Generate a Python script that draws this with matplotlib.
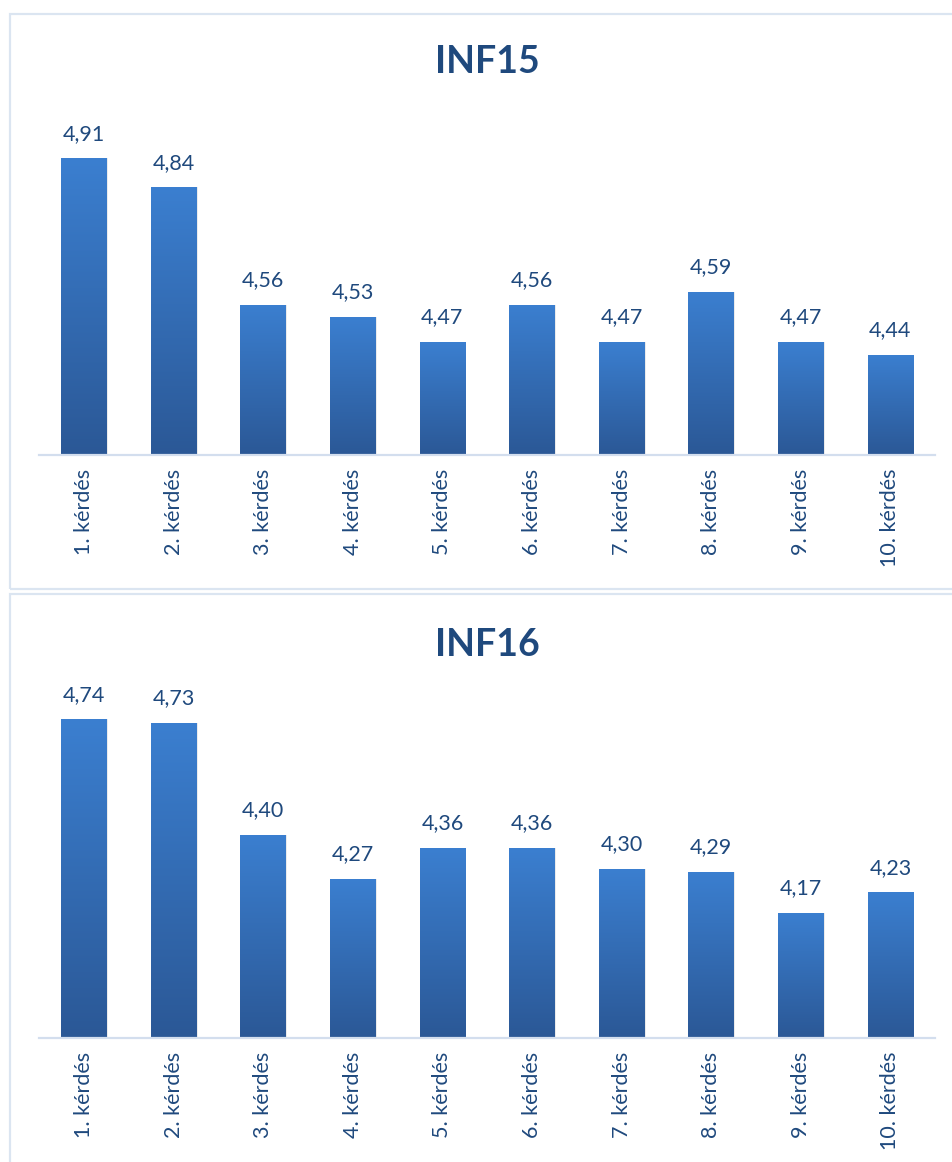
import numpy as np
import matplotlib
matplotlib.use("Agg")
import matplotlib.pyplot as plt
from matplotlib.colors import LinearSegmentedColormap
from matplotlib.patches import Rectangle

plt.rcParams["font.family"] = ["Lato", "DejaVu Sans"]

categories = ["1. kérdés", "2. kérdés", "3. kérdés", "4. kérdés", "5. kérdés",
              "6. kérdés", "7. kérdés", "8. kérdés", "9. kérdés", "10. kérdés"]
inf15 = [4.91, 4.84, 4.56, 4.53, 4.47, 4.56, 4.47, 4.59, 4.47, 4.44]
inf16 = [4.74, 4.73, 4.40, 4.27, 4.36, 4.36, 4.30, 4.29, 4.17, 4.23]

text_col = "#1f497d"
line_col = "#d3deee"
grad = LinearSegmentedColormap.from_list("bar", ["#2b5896", "#3b7fd0"])

W, H = 952, 1162
fig = plt.figure(figsize=(W / 100, H / 100), dpi=100)

# panel frames
fig.patches.append(Rectangle((10 / W, 1 - 589 / H), 960 / W, 575 / H, transform=fig.transFigure,
                             fill=False, edgecolor="#dbe5f1", linewidth=1.6))
fig.patches.append(Rectangle((10 / W, -0.05), 960 / W, 1 - 594 / H + 0.05, transform=fig.transFigure,
                             fill=False, edgecolor="#dbe5f1", linewidth=1.6))


def panel(rect, values, ylim, title, title_y):
    ax = fig.add_axes(rect)
    x = np.arange(len(values))
    w = 0.51
    bars = ax.bar(x, [v - ylim[0] for v in values], width=w, bottom=ylim[0],
                  color="#336bb3", zorder=2)
    img = np.linspace(0, 1, 256).reshape(-1, 1)
    for b, v in zip(bars, values):
        x0 = b.get_x()
        # soft shadow
        ax.add_patch(Rectangle((x0 + 0.012, ylim[0]), w, v - ylim[0],
                               facecolor="#000000", alpha=0.08, zorder=1, linewidth=0))
        im = ax.imshow(img, cmap=grad, origin="lower", aspect="auto",
                       extent=[x0, x0 + w, ylim[0], v], zorder=3)
        im.set_clip_path(b)
        ax.annotate(f"{v:.2f}".replace(".", ","), (b.get_x() + w / 2, v),
                    xytext=(0, 10.5), textcoords="offset points",
                    ha="center", va="bottom", fontsize=15.5, color=text_col)
    ax.set_xlim(-0.5, len(values) - 0.5)
    ax.set_ylim(*ylim)
    for s in ["top", "right", "left"]:
        ax.spines[s].set_visible(False)
    ax.spines["bottom"].set_color(line_col)
    ax.spines["bottom"].set_linewidth(1.6)
    ax.spines["bottom"].set_zorder(4)
    ax.set_yticks([])
    ax.set_xticks(x)
    ax.set_xticklabels(categories, rotation=90, fontsize=15.5, color=text_col)
    ax.tick_params(axis="x", length=0, pad=10)
    fig.text(rect[0] + rect[2] / 2, 1 - title_y / H, title, ha="center", va="center",
             fontsize=27, fontweight="bold", color=text_col)
    return ax


panel([39.2 / W, 707 / H, 896 / W, 334.4 / H], inf15, (4.2, 5.0), "INF15", 62)
panel([39.2 / W, 124 / H, 896 / W, 339 / H], inf16, (3.8, 4.8), "INF16", 645)

fig.savefig("out.png", dpi=100)
